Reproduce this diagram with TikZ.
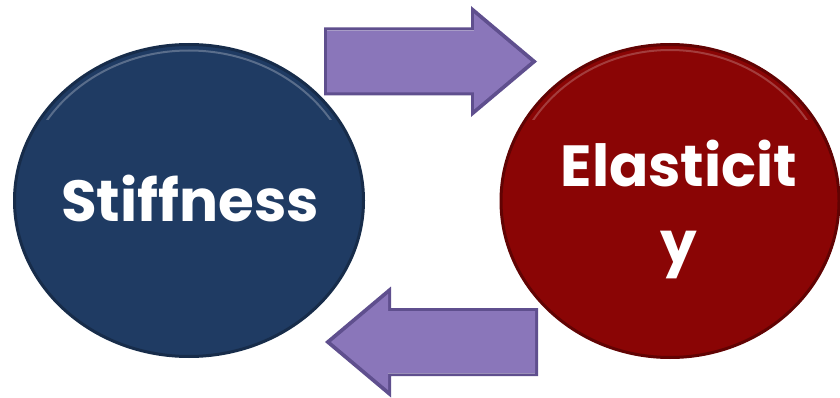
\documentclass[tikz,border=0pt]{standalone}
\usepackage{fontspec}
\setmainfont{Poppins}
\usetikzlibrary{shapes.geometric}

\definecolor{stiffblue}{HTML}{1F3B63}
\definecolor{elasred}{HTML}{8A0505}
\definecolor{arrowpurple}{HTML}{8A76BA}
\definecolor{arrowedge}{HTML}{5F4F8E}

\tikzset{
  blob/.style={ellipse, line width=3pt, inner sep=0pt},
  blobtext/.style={text=white, align=center, inner sep=0pt,
                   font=\fontsize{58}{77}\selectfont\bfseries},
  rim/.style={line width=2pt, opacity=.4},
  % the purple block arrow, pointing right from its tail
  blockarrow/.pic={
    \fill[arrowedge] (0,-34) -- (147,-34) -- (147,-55.5) -- (213,0)
                     -- (147,55.5) -- (147,34) -- (0,34) -- cycle;
    \fill[arrowpurple] (3,-31) -- (150,-31) -- (150,-48) -- (207,0)
                     -- (150,48) -- (150,31) -- (3,31) -- cycle;
    \draw[white, opacity=.35, line width=1pt] (3,-31) -- (150,-31);
  }
}

\begin{document}
\begin{tikzpicture}[x=1pt, y=-1pt]
  \useasboundingbox (0,0) rectangle (840,398);

  % the two arrows
  \pic at (324,61.5) {blockarrow};
  \pic[rotate=180] at (538,342) {blockarrow};

  % the two ellipses
  \node[blob, fill=stiffblue, draw=stiffblue!75!black,
        minimum width=349pt, minimum height=312pt] (stiffness) at (189,200.5) {};
  \node[blob, fill=elasred, draw=elasred!70!black,
        minimum width=338pt, minimum height=313pt] (elasticity) at (670,201) {};

  % light rim on the top of each ellipse
  \begin{scope}
    \clip (0,0) rectangle (840,120);
    \draw[rim, stiffblue!35!white] (stiffness.center) ellipse [x radius=168pt, y radius=150pt];
    \draw[rim, elasred!45!white] (elasticity.center) ellipse [x radius=162pt, y radius=151pt];
  \end{scope}

  % the texts
  \node[blobtext, anchor=base] (stiffness-text) at (190,222) {Stiffness};
  \node[blobtext, anchor=base] (elasticity-text) at (679,263) {Elasticit\\y};
\end{tikzpicture}
\end{document}
